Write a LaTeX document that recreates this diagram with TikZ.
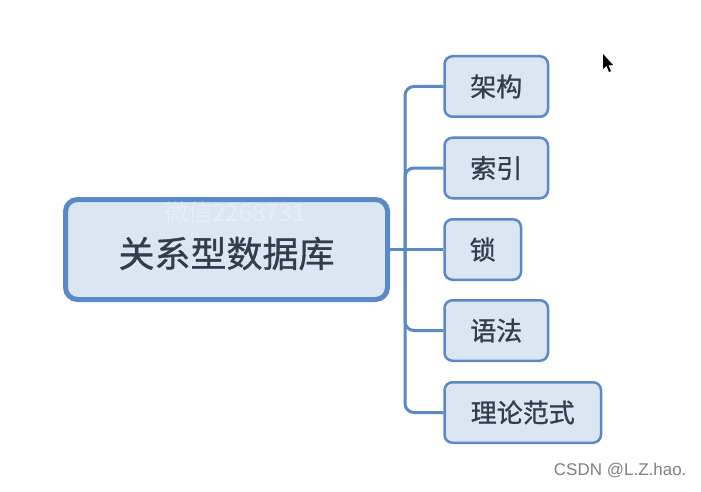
\documentclass[tikz,border=0pt]{standalone}
\usepackage{fontspec}
\setmainfont{Noto Sans CJK SC}[FakeBold=0.9]
\newfontfamily\latinsans{Liberation Sans}
\newfontfamily\wmfont{Noto Sans CJK SC}
\definecolor{bordc}{HTML}{5A8AC6}
\definecolor{fillc}{HTML}{DCE6F2}
\definecolor{textc}{HTML}{323C4C}
\begin{document}
\begin{tikzpicture}[x=1pt,y=-1pt,
  rootbox/.style={draw=bordc,fill=fillc,line width=5pt,rounded corners=12pt,
    minimum width=322pt,minimum height=100pt,inner sep=0pt,text=textc,
    font=\fontsize{36}{40}\selectfont},
  childbox/.style={draw=bordc,fill=fillc,line width=2.5pt,rounded corners=8pt,
    minimum height=60.5pt,inner sep=0pt,anchor=west,text=textc,
    font=\fontsize{26}{30}\selectfont},
  conn/.style={draw=bordc,line width=3pt,rounded corners=9pt}]
\useasboundingbox[fill=white] (0,0) rectangle (701,492);
\node[rootbox] (root) at (226.5,249.5) {};
\node[text=white,opacity=0.3,font=\wmfont\fontsize{24}{26}\selectfont] (wm) at (235,212) {微信2268731};
\node[text=textc,font=\fontsize{36}{40}\selectfont] (roottext) at (226.5,253.5) {关系型数据库};
\coordinate (j) at (405,249.5);
\node[childbox,minimum width=103.5pt] (c1) at (443.25,86.5) {架构};
\node[childbox,minimum width=103.5pt] (c2) at (443.25,168) {索引};
\node[childbox,minimum width=76.5pt] (c3) at (443.25,249.5) {锁};
\node[childbox,minimum width=103.5pt] (c4) at (443.25,330.5) {语法};
\node[childbox,minimum width=156.5pt] (c5) at (443.25,412.5) {理论范式};
\draw[conn] (root.east) -- (j);
\draw[conn] (j) |- (c1.west);
\draw[conn] (j) |- (c2.west);
\draw[conn] (j) -- (c3.west);
\draw[conn] (j) |- (c4.west);
\draw[conn] (j) |- (c5.west);
\node[text=black!50,font=\latinsans\fontsize{17}{19}\selectfont,anchor=east] (csdn) at (690,471) {CSDN @L.Z.hao.};
\fill[black] (603,54) -- (603,69) -- (606.5,66) -- (609,72) -- (611,71) -- (608.5,65.5) -- (613,65) -- cycle;
\end{tikzpicture}
\end{document}
